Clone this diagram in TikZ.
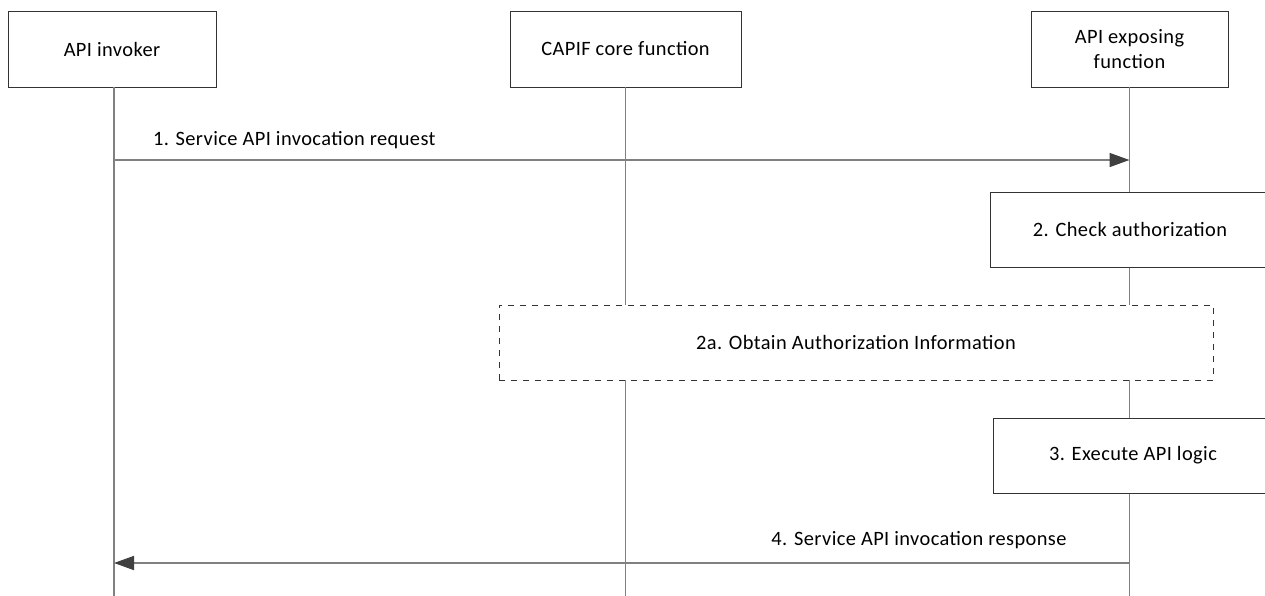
\documentclass[tikz,border=0pt]{standalone}
\usepackage{fontspec}
\setmainfont{Carlito}[LetterSpace=2]
\usetikzlibrary{arrows.meta,positioning}

\begin{document}
\begin{tikzpicture}[
    x=0.5pt, y=-0.5pt,
    font=\fontsize{10.2}{12.5}\selectfont,
    block/.style={draw=black!80, fill=white, minimum height=38pt, align=center},
    step box/.style={block, minimum height=37.5pt},
    lifeline/.style={draw=black!50, thick},
    arrow/.style={draw=black!50, thick, -{Triangle[length=10pt,width=7pt,color=black!75]}},
]
    \clip (0,0) rectangle (1265,595);
    % participants
    \node[block, minimum width=104pt] (invoker) at (112,49) {API invoker};
    \node[block, minimum width=115.5pt] (capif) at (625.5,49) {CAPIF core function};
    \node[block, minimum width=98.5pt] (aef) at (1129.5,49) {API exposing\\function};

    % lifelines
    \coordinate (invoker top) at ([xshift=1pt]invoker.south);
    \coordinate (invoker end) at (invoker top |- 0,600);
    \coordinate (capif end) at (capif.south |- 0,600);
    \coordinate (aef end) at (aef.south |- 0,600);
    \draw[lifeline] (invoker top) -- (invoker end);
    \draw[lifeline] (capif.south) -- (capif end);
    \draw[lifeline] (aef.south) -- (aef end);

    % steps
    \node[step box, minimum width=140pt] (check) at (1130,229.5) {2. Check authorization};
    \node[step box, dashed, minimum width=357pt] (obtain) at (856,342.5) {2a. Obtain Authorization Information};
    \node[step box, minimum width=140pt] (execute) at (1133,455.5) {3. Execute API logic};

    % messages
    \coordinate (req from) at (invoker top |- 0,160);
    \coordinate (req to) at (aef.south |- 0,160);
    \draw[arrow] (req from) -- (req to);
    \node[anchor=west] (req label) at (146,140) {1. Service API invocation request};

    \coordinate (resp from) at (aef.south |- 0,563);
    \coordinate (resp to) at (invoker top |- 0,563);
    \draw[arrow] (resp from) -- (resp to);
    \node (resp label) at (919,540) {4. Service API invocation response};
\end{tikzpicture}
\end{document}
